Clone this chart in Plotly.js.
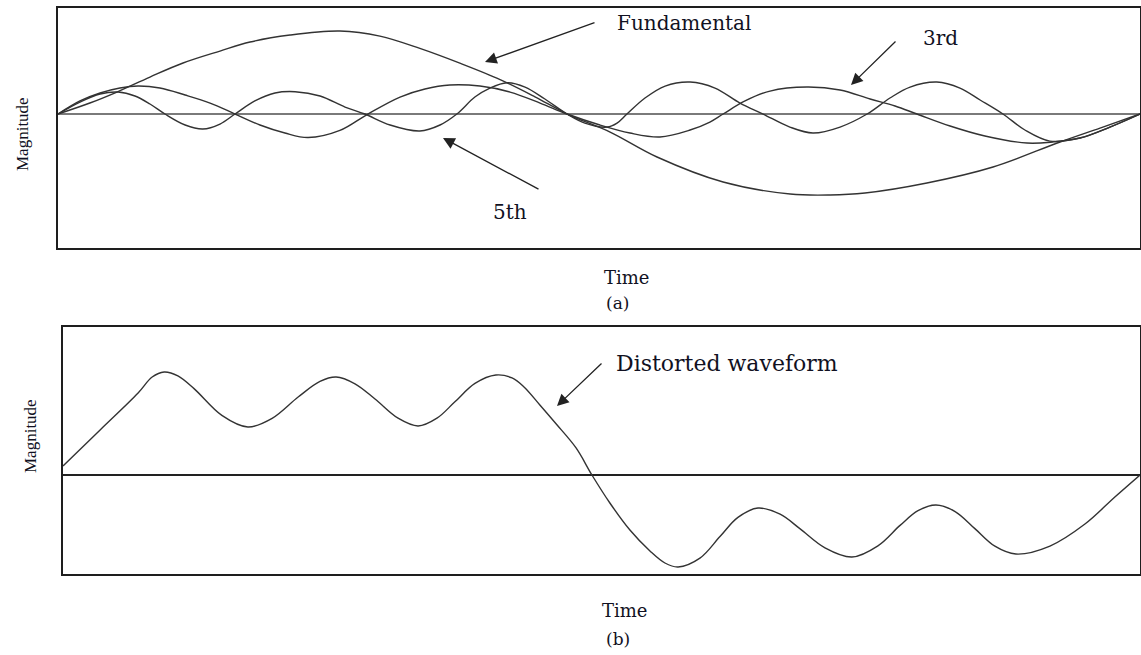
<!DOCTYPE html>
<html>
<head>
<meta charset="utf-8">
<script src="https://cdn.plot.ly/plotly-3.0.1.min.js"></script>
<style>html,body{margin:0;padding:0;background:#fff;}#chart{width:1141px;height:655px;}</style>
</head>
<body>
<div id="chart"></div>
<script>
// ---- Data (time in electrical degrees, magnitude in per-unit) ----
// (a) Fundamental
const fundT = [0,10.6,19.6,30.6,41.6,53.9,63.9,77.2,93.8,107.1,120.4,133.7,147.1,158.7,169.4,183.7,199.3,221.3,243.6,256.9,268.5,289.1,311.1,333.4,346.7,360];
const fundV = [0,0.134,0.268,0.451,0.622,0.768,0.878,0.963,1.012,0.950,0.800,0.620,0.420,0.210,0,-0.220,-0.524,-0.829,-0.976,-0.988,-0.963,-0.841,-0.646,-0.341,-0.171,0];
// (a) 3rd harmonic
const h3T = [0,7.3,14.0,20.6,26.6,33.9,42.3,50.6,58.9,67.2,75.5,83.2,93.8,103.1,113.8,122.1,130.4,140.4,150.4,160.4,169.4,180.3,190.3,200.3,210.3,216.9,221.3,228.6,236.9,249.2,260.2,270.2,278.5,285.8,296.8,308.4,322.4,331.0,340.0,350.0,360];
const h3V = [0,0.159,0.256,0.317,0.341,0.317,0.232,0.134,0,-0.134,-0.232,-0.287,-0.200,0,0.207,0.305,0.354,0.341,0.268,0.134,0,-0.134,-0.232,-0.280,-0.195,-0.098,0,0.159,0.280,0.329,0.293,0.183,0.098,0,-0.146,-0.268,-0.354,-0.341,-0.293,-0.159,0];
// (a) 5th harmonic
const h5T = [0,7.3,14.0,20.0,25.6,30.6,35.6,42.3,48.2,53.9,58.9,65.5,72.2,78.9,87.2,95.5,102.1,110.5,120.4,127.1,132.7,138.7,143.7,149.4,155.4,162.0,169.4,175.3,182.7,186.0,189.3,195.3,202.0,210.3,218.6,226.9,234.6,243.5,251.2,260.2,269.2,276.8,283.5,292.4,300.1,306.8,314.4,321.7,330.0,340.0,350.0,360];
const h5V = [0,0.146,0.244,0.268,0.220,0.122,0,-0.134,-0.183,-0.122,0,0.159,0.256,0.272,0.220,0.085,0,-0.134,-0.207,-0.134,0,0.207,0.317,0.382,0.329,0.183,0,-0.110,-0.159,-0.110,0,0.195,0.341,0.390,0.317,0.134,0,-0.159,-0.232,-0.159,0,0.195,0.329,0.390,0.317,0.171,0,-0.195,-0.330,-0.293,-0.159,0];
// (b) Distorted waveform
const distT = [0,12.4,25.1,29.8,33.8,38.4,43.8,53.1,61.8,69.9,78.6,85.9,91.3,97.6,104.3,112.0,118.7,125.0,131.0,137.7,144.7,150.1,154.1,159.4,164.8,171.5,176.8,182.8,189.5,196.2,201.2,205.6,212.9,219.6,225.6,232.3,239.7,246.3,254.7,263.7,272.4,279.8,285.8,291.8,298.2,304.8,311.5,318.5,329.9,341.6,351.6,360];
const distV = [0.113,0.563,1.025,1.225,1.288,1.240,1.080,0.745,0.600,0.708,0.975,1.170,1.225,1.140,0.950,0.710,0.613,0.710,0.915,1.145,1.250,1.213,1.100,0.875,0.640,0.338,0,-0.350,-0.688,-0.950,-1.100,-1.150,-1.040,-0.770,-0.530,-0.413,-0.490,-0.670,-0.910,-1.025,-0.885,-0.630,-0.446,-0.375,-0.457,-0.670,-0.890,-0.988,-0.888,-0.613,-0.275,0];

// Text labels
const axisLabelY = "Magnitude";
const axisLabelX = "Time";
const panelLabels = ["(a)", "(b)"];
const curveLabels = ["Fundamental", "3rd", "5th", "Distorted waveform"];

// ---- Layout helpers (pixel -> paper) ----
const W = 1141, H = 655;
const px = v => v / W;
const py = v => 1 - v / H;

const lineStyle = {color: '#333333', width: 1.4, shape: 'spline', smoothing: 1};
function tr(x, y, xa, ya, name) {
  return {x: x, y: y, xaxis: xa, yaxis: ya, name: name, type: 'scatter', mode: 'lines',
          line: lineStyle, hoverinfo: 'skip'};
}
const traces = [
  tr(fundT, fundV, 'x', 'y', curveLabels[0]),
  tr(h3T, h3V, 'x', 'y', curveLabels[1]),
  tr(h5T, h5V, 'x', 'y', curveLabels[2]),
  tr(distT, distV, 'x2', 'y2', curveLabels[3])
];

const serif = 'DejaVu Serif, Liberation Serif, serif';
function axisBase(extra) {
  return Object.assign({showticklabels: false, ticks: '', showgrid: false,
    showline: true, mirror: true, linecolor: '#1e1e1e', linewidth: 1.8, fixedrange: true}, extra);
}
function txt(text, x, y, size, angle, family) {
  return {text: text, xref: 'paper', yref: 'paper', x: px(x), y: py(y), showarrow: false,
          xanchor: 'center', yanchor: 'middle', textangle: angle || 0,
          font: {family: family || serif, size: size, color: '#111122'}};
}
function arrow(tipX, tipY, tailX, tailY) {
  return {text: '', xref: 'paper', yref: 'paper', x: px(tipX), y: py(tipY),
          ax: tailX - tipX, ay: tailY - tipY, showarrow: true, arrowhead: 2,
          arrowsize: 1.8, arrowwidth: 1.3, arrowcolor: '#222', standoff: 0, startstandoff: 0};
}

const layout = {
  width: W, height: H,
  margin: {l: 0, r: 0, t: 0, b: 0},
  paper_bgcolor: '#fff', plot_bgcolor: '#fff',
  showlegend: false,
  xaxis: axisBase({domain: [px(58), px(1140)], range: [0, 360], zeroline: false, anchor: 'y'}),
  yaxis: axisBase({domain: [py(248), py(8)], range: [-1.634, 1.293], zeroline: true,
                   zerolinecolor: '#7a7a7a', zerolinewidth: 2, anchor: 'x'}),
  xaxis2: axisBase({domain: [px(63), px(1140)], range: [0, 360], zeroline: false, anchor: 'y2'}),
  yaxis2: axisBase({domain: [py(574), py(327)], range: [-1.2375, 1.85], zeroline: true,
                    zerolinecolor: '#222', zerolinewidth: 1.5, anchor: 'x2'}),
  annotations: [
    txt(axisLabelY, 23, 134, 17, -90, 'Liberation Serif, serif'),
    txt(axisLabelY, 31, 436, 17, -90, 'Liberation Serif, serif'),
    txt(axisLabelX, 626, 277, 18),
    txt(panelLabels[0], 617, 303, 17),
    txt(axisLabelX, 624, 610, 18),
    txt(panelLabels[1], 618, 639, 17),
    txt(curveLabels[0], 684, 23, 20),
    txt(curveLabels[1], 940, 38, 20),
    txt(curveLabels[2], 510, 212, 20),
    txt(curveLabels[3], 727, 363, 22),
    arrow(485, 62, 596, 22),
    arrow(851, 85, 897, 40),
    arrow(443, 138, 540, 190),
    arrow(557, 406, 603, 362)
  ]
};

Plotly.newPlot('chart', traces, layout, {displayModeBar: false, staticPlot: true});
</script>
</body>
</html>
